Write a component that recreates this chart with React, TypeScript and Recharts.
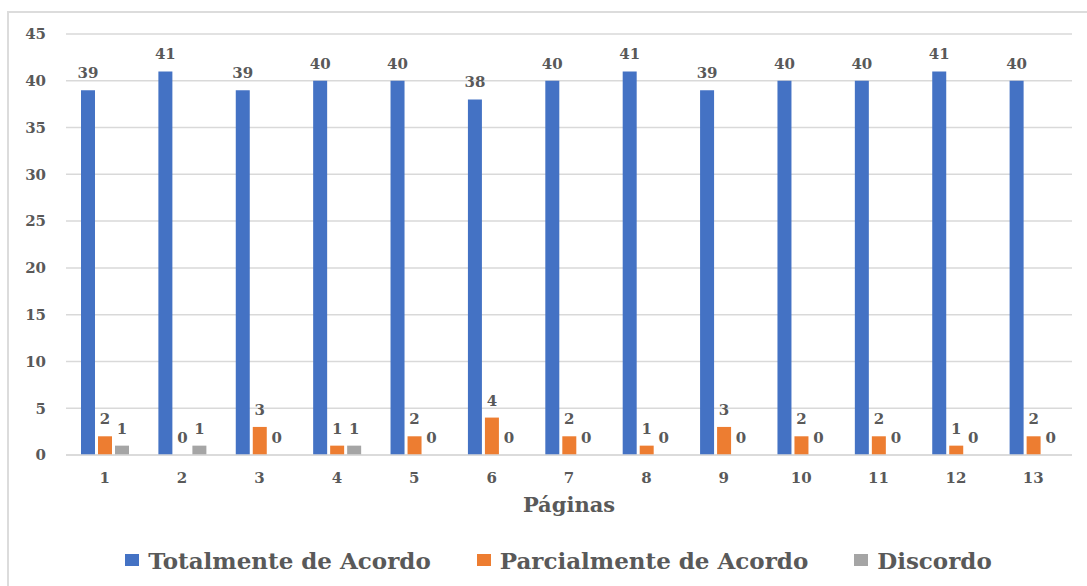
import React from "react";
import {
  BarChart,
  Bar,
  XAxis,
  YAxis,
  CartesianGrid,
  Legend,
} from "recharts";

const paginas = ["1", "2", "3", "4", "5", "6", "7", "8", "9", "10", "11", "12", "13"];
const totalmente = [39, 41, 39, 40, 40, 38, 40, 41, 39, 40, 40, 41, 40];
const parcialmente = [2, 0, 3, 1, 2, 4, 2, 1, 3, 2, 2, 1, 2];
const discordo = [1, 1, 0, 1, 0, 0, 0, 0, 0, 0, 0, 0, 0];
const yTicks = [0, 5, 10, 15, 20, 25, 30, 35, 40, 45];

const series = [
  { key: "totalmente", name: "Totalmente de Acordo", color: "#4472C4" },
  { key: "parcialmente", name: "Parcialmente de Acordo", color: "#ED7D31" },
  { key: "discordo", name: "Discordo", color: "#A5A5A5" },
];

const data = paginas.map((p, i) => ({
  pagina: p,
  totalmente: totalmente[i],
  parcialmente: parcialmente[i],
  discordo: discordo[i],
}));

const FONT = "'DejaVu Serif', serif";
const TEXT = "#595959";
const GRID = "#d9d9d9";

function LegendBox() {
  return (
    <div
      style={{
        height: 40,
        display: "flex",
        alignItems: "center",
        justifyContent: "center",
        paddingLeft: 45,
        gap: 46,
        fontFamily: FONT,
        fontWeight: "bold",
        fontSize: 23,
        color: TEXT,
      }}
    >
      {series.map((s) => (
        <div key={s.key} style={{ display: "flex", alignItems: "center" }}>
          <span
            style={{
              display: "inline-block",
              width: 14,
              height: 12,
              background: s.color,
              marginRight: 9,
            }}
          />
          <span>{s.name}</span>
        </div>
      ))}
    </div>
  );
}

// value above the bar; zero bars get a tiny minPointSize so they still get one
function valueLabel(props: any) {
  const { x, y, width, height, value } = props;
  const top = height < 0 ? y + height : y;
  return (
    <text
      x={x + width / 2}
      y={top - 12}
      textAnchor="middle"
      fill={TEXT}
      fontFamily={FONT}
      fontWeight="bold"
      fontSize={15}
    >
      {value}
    </text>
  );
}

export default function App() {
  return (
    <div
      style={{
        position: "absolute",
        left: 0,
        top: 0,
        width: 1087,
        height: 586,
        overflow: "hidden",
        background: "#fff",
      }}
    >
      <div
        style={{
          position: "absolute",
          left: 7,
          top: 11,
          width: 1200,
          height: 700,
          border: "2px solid #dcdcdc",
        }}
      />
      <BarChart
        width={1087}
        height={586}
        data={data}
        margin={{ top: 34, right: 15, left: 0, bottom: 6 }}
        barSize={14}
        barGap={3}
      >
        <CartesianGrid vertical={false} stroke={GRID} strokeWidth={1.5} />
        <XAxis
          dataKey="pagina"
          height={85}
          tickLine={false}
          tickSize={0}
          tickMargin={17}
          axisLine={{ stroke: GRID, strokeWidth: 1.5 }}
          tick={{ fill: TEXT, fontFamily: FONT, fontWeight: "bold", fontSize: 15 }}
          label={{
            value: "Páginas",
            position: "insideBottom",
            offset: 28,
            fill: TEXT,
            fontFamily: FONT,
            fontWeight: "bold",
            fontSize: 21,
          }}
        />
        <YAxis
          width={66}
          domain={[0, 45]}
          ticks={yTicks}
          tickLine={false}
          axisLine={false}
          tickSize={0}
          tickMargin={20}
          tick={{ fill: TEXT, fontFamily: FONT, fontWeight: "bold", fontSize: 15 }}
        />
        <Legend verticalAlign="bottom" content={() => <LegendBox />} />
        {series.map((s) => (
          <Bar
            key={s.key}
            dataKey={s.key}
            name={s.name}
            fill={s.color}
            minPointSize={0.01}
            isAnimationActive={false}
            label={valueLabel}
          />
        ))}
      </BarChart>
    </div>
  );
}
